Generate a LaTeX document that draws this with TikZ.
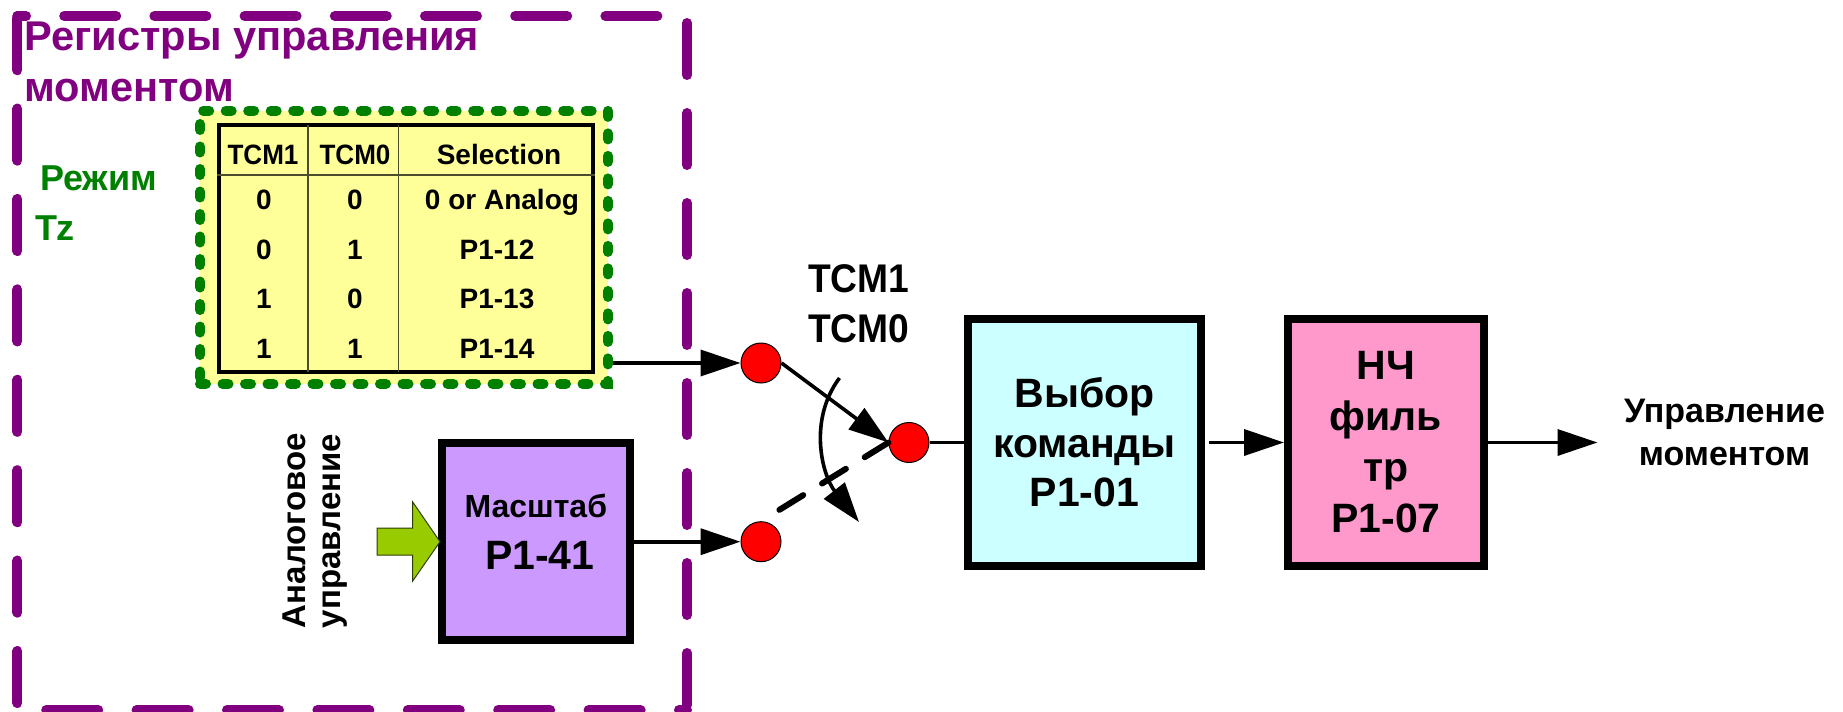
\documentclass[tikz,border=0pt]{standalone}
\usepackage{fontspec}
\setmainfont{Liberation Sans}
\usetikzlibrary{arrows.meta}
\definecolor{regpurple}{HTML}{800080}
\definecolor{modegreen}{HTML}{008000}
\definecolor{tabyellow}{HTML}{FFFF99}
\definecolor{selcyan}{HTML}{CCFFFF}
\definecolor{filtpink}{HTML}{FF99CC}
\definecolor{scalelilac}{HTML}{CC99FF}
\definecolor{inlime}{HTML}{99CC00}
\newcommand{\fs}[1]{\fontsize{#1pt}{#1pt}\selectfont\bfseries}
\newcommand{\narrow}[1]{\scalebox{.93}[1]{#1}}
\tikzset{
  txt/.style={anchor=base,inner sep=0pt,outer sep=0pt,font=\fs{#1}},
  cell/.style={txt=14},
  block/.style={draw=black,line width=4pt,minimum height=123.5pt,align=center,inner sep=0pt},
  dot/.style={circle,draw=black,line width=.5pt,fill=red,minimum size=20pt,inner sep=0pt},
  wire/.style={line width=1.8pt,draw=black},
  flow/.style={wire,-{Triangle[length=20pt,width=13pt]}},
  regline/.style={draw=regpurple,line width=5pt,line cap=round},
}
\begin{document}
\begin{tikzpicture}[x=.5pt,y=-.5pt]
\useasboundingbox (0,0) rectangle (1843,712);
% dashed register frame
\draw[regline,dash pattern=on 26pt off 19.2pt,dash phase=42.2pt] (17.4,709) -- (17.4,16);
\draw[regline] (17.4,16) -- (25,16);
\draw[regline,dash pattern=on 26pt off 19.1pt,dash phase=21.7pt] (17.4,16) -- (687,16);
\draw[regline,dash pattern=on 26pt off 19pt,dash phase=41.5pt] (687,16) -- (687,710);
\draw[regline,dash pattern=on 26pt off 19.2pt,dash phase=22pt] (687,710) -- (40,710);
% title
\node[txt=20.8,text=regpurple,anchor=base west] (title1) at (24.5,50) {Регистры управления};
\node[txt=20.8,text=regpurple,anchor=base west] (title2) at (24.5,101) {моментом};
\node[txt=18,text=modegreen,anchor=base west] (mode1) at (40,190) {Режим};
\node[txt=18,text=modegreen,anchor=base west] (mode2) at (35,240) {Tz};
% table
\node[draw=modegreen,fill=tabyellow,line width=5pt,line cap=round,dash pattern=on 3pt off 8.25pt,
      minimum width=204pt,minimum height=136.6pt,inner sep=0pt] (yel) at (404,247.3) {};
\node[draw=black,line width=2pt,minimum width=187pt,minimum height=123.5pt,inner sep=0pt] (tab) at (406,248.5) {};
\coordinate (h1) at (308,125); \coordinate (h1b) at (308,372);
\coordinate (h2) at (398.7,125); \coordinate (h2b) at (398.7,372);
\draw[line width=.6pt,draw=black!70!tabyellow] (h1) -- (h1b) (h2) -- (h2b) (tab.west |- 0,175) -- (tab.east |- 0,175);
\node[cell] (a0) at (263,164.5) {\narrow{TCM1}};
\node[cell] (b0) at (355,164.5) {\narrow{TCM0}};
\node[cell] (c0) at (499,164.5) {Selection};
\node[cell] (a1) at (264,209) {0};
\node[cell] (b1) at (355,209) {0};
\node[cell] (c1t) at (502,209) {0 or Analog};
\node[cell] (a2) at (264,259) {0};
\node[cell] (b2) at (355,259) {1};
\node[cell] (c2t) at (497,259) {P1-12};
\node[cell] (a3) at (264,308) {1};
\node[cell] (b3) at (355,308) {0};
\node[cell] (c3t) at (497,308) {P1-13};
\node[cell] (a4) at (264,358) {1};
\node[cell] (b4) at (355,358) {1};
\node[cell] (c4t) at (497,358) {P1-14};
% blocks
\node[block,fill=scalelilac,minimum width=94pt,minimum height=98.5pt,font=\fs{20.5}] (scale) at (535.8,541.5)
  {\fs{16}Масштаб\\[5.5pt]\hspace*{4pt}\fs{20.5}P1-41\rule[-9.5pt]{0pt}{1pt}};
\node[block,fill=selcyan,minimum width=116.5pt,font=\fs{20.5}] (sel) at (1084.5,442.5)
  {Выбор\\[4.25pt]команды\\[4.25pt]P1-01};
\node[block,fill=filtpink,minimum width=98pt,font=\fs{20.5}] (fil) at (1386,442.5)
  {НЧ\\[5pt]филь\\[5pt]тр\\[5pt]P1-07};
% switch points
\node[dot] (p1) at (761,363) {};
\node[dot] (p2) at (761,541.7) {};
\node[dot] (p3) at (909,442.5) {};
% connectors
\draw[flow] (yel.east |- p1) -- (p1.west);
\draw[flow] (scale.east |- p2) -- (p2.west);
\draw[flow] (p1.east) -- (p3.west);
\draw[line width=3pt,line cap=round,dash pattern=on 14pt off 11.05pt] (p3.west) -- (p2.north);
\draw[wire] (p3.east) -- (sel.west);
\draw[flow,shorten <=2pt] (sel.east) -- (fil.west);
\coordinate (out) at (1597.5,442.5);
\draw[flow] (fil.east) -- (out);
% switch arc
\coordinate (arcA) at (839.5,378);
\coordinate (arcB) at (859,522);
\draw[wire,-{Triangle[length=20pt,width=13pt]}] (arcA) .. controls (808,420) and (822,475) .. (arcB);
% analog input arrow
\draw[fill=inlime,draw=black!70!inlime,line width=.5pt] (377,528) -- (412.7,528) -- (412.7,502) -- (440,541.7) -- (412.7,581) -- (412.7,555) -- (377,555) -- cycle;
\node[txt=16.5,rotate=90,anchor=base west] (an1) at (305.5,628) {Аналоговое};
\node[txt=16.5,rotate=90,anchor=base west] (an2) at (340,628) {управление};
% labels
\node[txt=20,anchor=base west] (tcm1) at (808,292.7) {\narrow{TCM1}};
\node[txt=20,anchor=base west] (tcm0) at (808,342.7) {\narrow{TCM0}};
\node[txt=17] (u1) at (1724.5,422) {Управление};
\node[txt=17] (u2) at (1724.5,465.7) {моментом};
\end{tikzpicture}
\end{document}
